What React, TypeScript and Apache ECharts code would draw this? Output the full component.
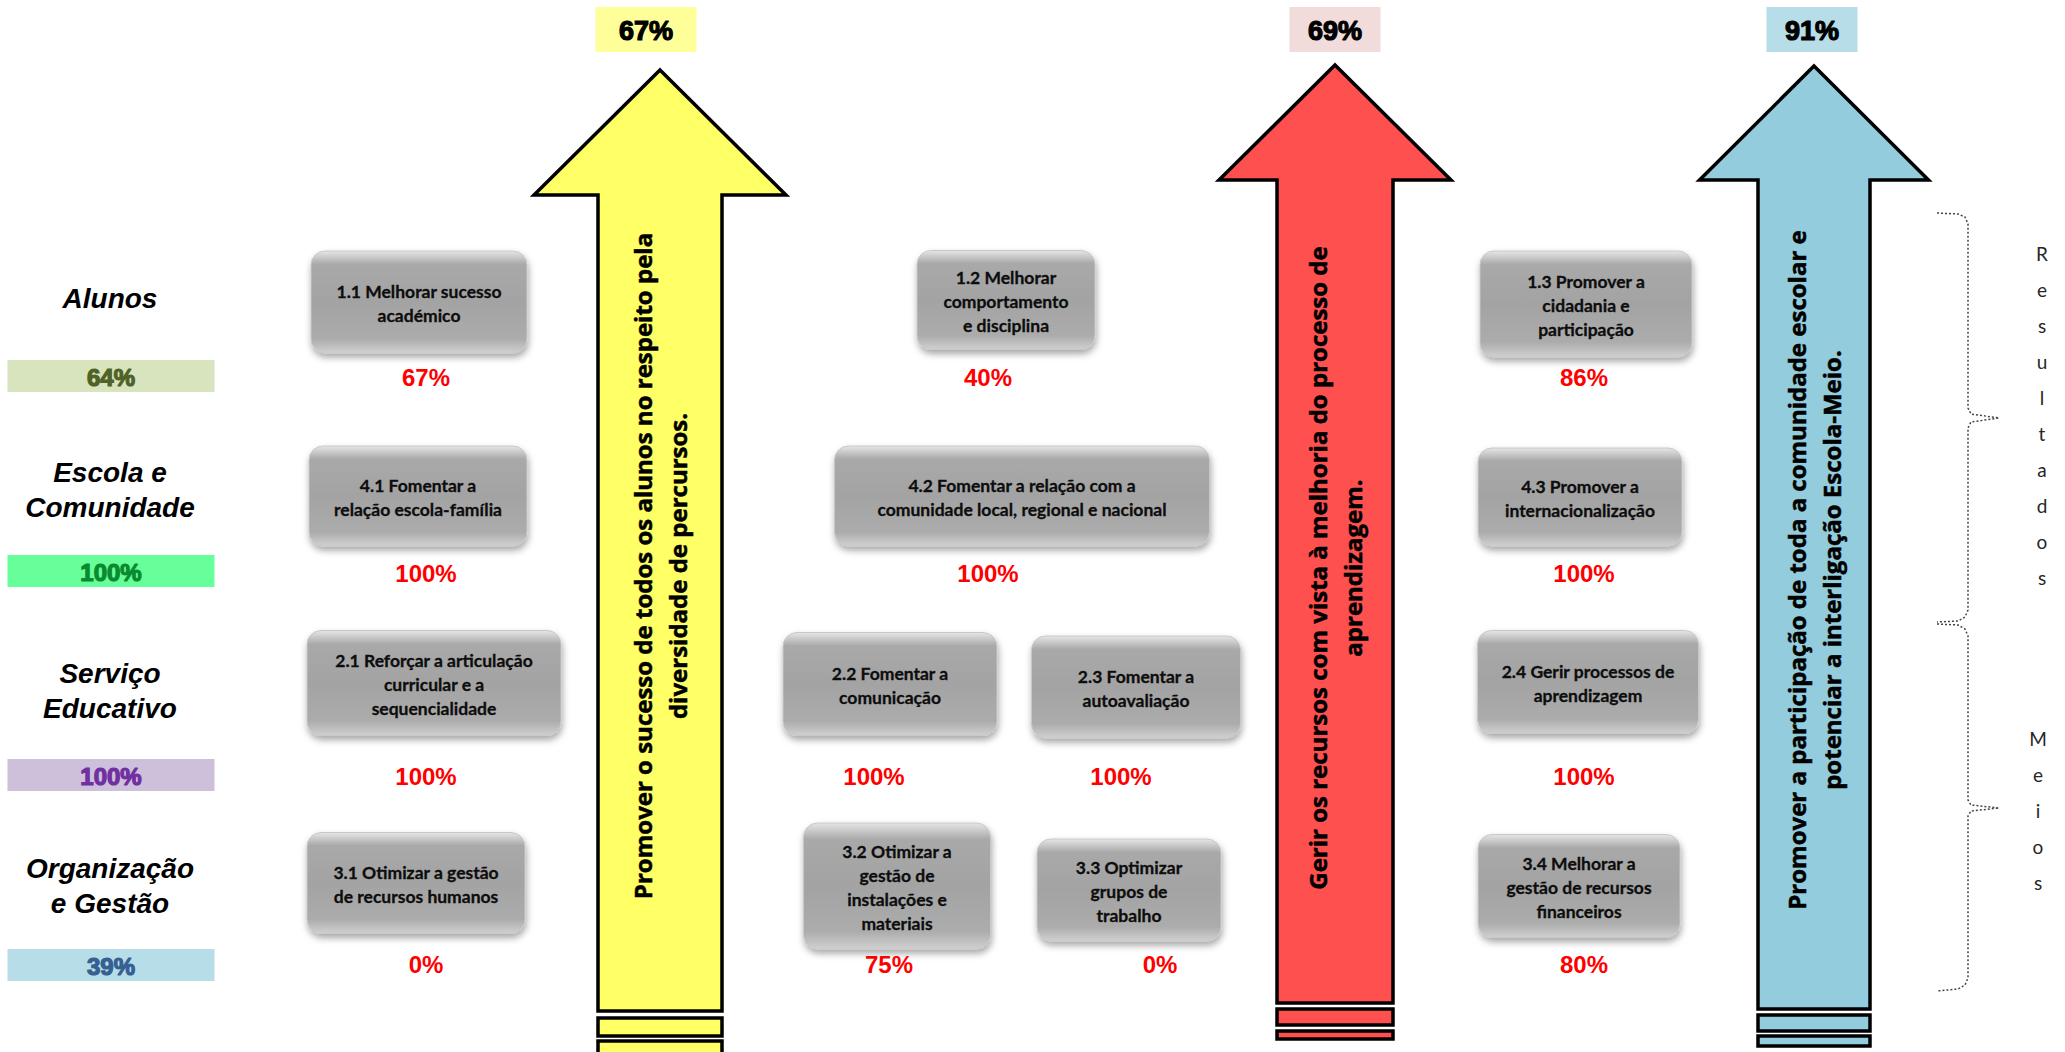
import React, { useEffect, useRef } from "react";
import * as echarts from "echarts";

// ---------- DATA ----------
const dimensionNames = ["Alunos", "Escola e\nComunidade", "Serviço\nEducativo", "Organização\ne Gestão"];
const dimensionValues = [64, 100, 100, 39];

const strategicAxes = [
  "Promover o sucesso de todos os alunos no respeito pela\ndiversidade de percursos.",
  "Gerir os recursos com vista à melhoria do processo de\naprendizagem.",
  "Promover a participação de toda a comunidade escolar e\npotenciar a interligação Escola-Meio.",
];
const strategicValues = [67, 69, 91];

const objectiveNames = [
  "1.1 Melhorar sucesso\nacadémico",
  "1.2 Melhorar\ncomportamento\ne disciplina",
  "1.3 Promover a\ncidadania e\nparticipação",
  "4.1 Fomentar a\nrelação escola-família",
  "4.2 Fomentar a relação com a\ncomunidade local, regional e nacional",
  "4.3 Promover a\ninternacionalização",
  "2.1 Reforçar a articulação\ncurricular e a\nsequencialidade",
  "2.2 Fomentar a\ncomunicação",
  "2.3 Fomentar a\nautoavaliação",
  "2.4 Gerir processos de\naprendizagem",
  "3.1 Otimizar a gestão\nde recursos humanos",
  "3.2 Otimizar a\ngestão de\ninstalações e\nmateriais",
  "3.3 Optimizar\ngrupos de\ntrabalho",
  "3.4 Melhorar a\ngestão de recursos\nfinanceiros",
];
const objectiveValues = [67, 40, 86, 100, 100, 100, 100, 100, 100, 100, 0, 75, 0, 80];
const objectiveDimension = [0, 0, 0, 1, 1, 1, 2, 2, 2, 2, 3, 3, 3, 3];

const sideGroups = ["Resultados", "Meios"];

// ---------- LAYOUT / STYLE ----------
const W = 2065;
const H = 1052;

const boxLayout = [
  { x: 419, y: 302, w: 216, h: 102, lx: 426 },
  { x: 1006, y: 300, w: 178, h: 99, lx: 988 },
  { x: 1586, y: 304, w: 212, h: 106, lx: 1584 },
  { x: 418, y: 496, w: 218, h: 100, lx: 426 },
  { x: 1022, y: 496, w: 375, h: 100, lx: 988 },
  { x: 1580, y: 497, w: 204, h: 98, lx: 1584 },
  { x: 434, y: 683, w: 254, h: 105, lx: 426 },
  { x: 890, y: 684, w: 214, h: 103, lx: 874 },
  { x: 1136, y: 687, w: 209, h: 102, lx: 1121 },
  { x: 1588, y: 682, w: 221, h: 103, lx: 1584 },
  { x: 416, y: 883, w: 218, h: 101, lx: 426 },
  { x: 897, y: 886, w: 187, h: 126, lx: 889 },
  { x: 1129, y: 890, w: 184, h: 102, lx: 1160 },
  { x: 1579, y: 886, w: 202, h: 103, lx: 1584 },
];
const pctRowY = [377, 573, 776, 964];

const dimLabelY = [298, 490, 691, 886];
const dimBadgeY = [376, 571, 775, 965];
const badgeFill = ["#D7E4BD", "#66FF99", "#CCC0DA", "#B7DEE8"];
const badgeText = ["#4F6228", "#0A8A2E", "#7030A0", "#376092"];

const arrowLayout = [
  { cx: 660, tip: 70, headY: 195, headW: 252, shaftW: 124, bottom: 1011, stripes: [[1018, 1036], [1041, 1060]], bx: 646, bw: 101, ty: 566, fill: "#FFFF66", boxFill: "#FFFF99" },
  { cx: 1335, tip: 65, headY: 180, headW: 232, shaftW: 116, bottom: 1003, stripes: [[1009, 1025], [1031, 1039]], bx: 1335, bw: 91, ty: 568, fill: "#FF5050", boxFill: "#F2DCDB" },
  { cx: 1814, tip: 66, headY: 180, headW: 229, shaftW: 112, bottom: 1009, stripes: [[1015, 1031], [1036, 1046]], bx: 1812, bw: 91, ty: 570, fill: "#93CDDD", boxFill: "#B7DEE8" },
];

const sideLayout = [
  { x: 2042, y: 415 },
  { x: 2038, y: 810 },
];

function boxGradient() {
  return new echarts.graphic.LinearGradient(0, 0, 0, 1, [
    { offset: 0, color: "#E6E6E6" },
    { offset: 0.13, color: "#A9A9A9" },
    { offset: 0.5, color: "#A3A3A3" },
    { offset: 0.86, color: "#ACACAC" },
    { offset: 1, color: "#D0D0D0" },
  ]);
}

function buildOption() {
  const arrowSeries = {
    type: "custom",
    coordinateSystem: "cartesian2d",
    clip: false,
    silent: true,
    data: strategicValues.map((v, i) => [arrowLayout[i].cx, v, i]),
    renderItem: (params: any, api: any) => {
      const i = api.value(2);
      const A = arrowLayout[i];
      const p = (x: number, y: number) => api.coord([x, y]);
      const hs = A.shaftW / 2;
      const hh = A.headW / 2;
      const cx = api.value(0);
      const children: any[] = [];
      children.push({
        type: "polygon",
        shape: {
          points: [
            p(cx, A.tip),
            p(cx + hh, A.headY),
            p(cx + hs, A.headY),
            p(cx + hs, A.bottom),
            p(cx - hs, A.bottom),
            p(cx - hs, A.headY),
            p(cx - hh, A.headY),
          ],
        },
        style: { fill: A.fill, stroke: "#000000", lineWidth: 3.5, lineJoin: "miter" },
      });
      A.stripes.forEach((s) => {
        const a = p(cx - hs, s[0]);
        const b = p(cx + hs, s[1]);
        children.push({
          type: "rect",
          shape: { x: a[0], y: a[1], width: b[0] - a[0], height: b[1] - a[1] },
          style: { fill: A.fill, stroke: "#000000", lineWidth: 3.5 },
        });
      });
      const t0 = p(A.bx - A.bw / 2, 7);
      const t1 = p(A.bx + A.bw / 2, 52);
      children.push({
        type: "rect",
        shape: { x: t0[0], y: t0[1], width: t1[0] - t0[0], height: t1[1] - t0[1] },
        style: { fill: A.boxFill },
      });
      children.push({
        type: "text",
        x: (t0[0] + t1[0]) / 2,
        y: (t0[1] + t1[1]) / 2 + 1,
        style: {
          text: api.value(1) + "%",
          align: "center",
          verticalAlign: "middle",
          fontFamily: "Liberation Sans",
          fontWeight: "bold",
          fontSize: 27,
          fill: "#000000",
          stroke: "#000000",
          lineWidth: 1.2,
        },
      });
      const tc = p(cx, A.ty);
      children.push({
        type: "text",
        x: tc[0],
        y: tc[1],
        rotation: Math.PI / 2,
        style: {
          text: strategicAxes[i],
          align: "center",
          verticalAlign: "middle",
          fontFamily: "Open Sans",
          fontWeight: "bold",
          fontSize: 24,
          lineHeight: 35,
          fill: "#000000",
          stroke: "#000000",
          lineWidth: 0.5,
        },
      });
      return { type: "group", children };
    },
  };

  const objectiveSeries = {
    type: "custom",
    coordinateSystem: "cartesian2d",
    clip: false,
    silent: true,
    data: objectiveValues.map((v, i) => [boxLayout[i].x, boxLayout[i].y, v, i]),
    renderItem: (params: any, api: any) => {
      const i = api.value(3);
      const L = boxLayout[i];
      const c = api.coord([api.value(0), api.value(1)]);
      const sz = api.size([L.w, L.h]);
      const lp = api.coord([L.lx, pctRowY[objectiveDimension[i]]]);
      return {
        type: "group",
        children: [
          {
            type: "rect",
            shape: { x: c[0] - sz[0] / 2, y: c[1] - sz[1] / 2, width: sz[0], height: sz[1], r: 14 },
            style: {
              fill: boxGradient(),
              stroke: "#C8C8C8",
              lineWidth: 1,
              shadowBlur: 7,
              shadowOffsetX: 1,
              shadowOffsetY: 4,
              shadowColor: "rgba(0,0,0,0.35)",
            },
          },
          {
            type: "text",
            x: c[0],
            y: c[1] + 1,
            style: {
              text: objectiveNames[i],
              align: "center",
              verticalAlign: "middle",
              fontFamily: "Lato",
              fontWeight: "bold",
              fontSize: 17.5,
              lineHeight: 24,
              fill: "#0D0D0D",
              stroke: "#0D0D0D",
              lineWidth: 0.3,
            },
          },
          {
            type: "text",
            x: lp[0],
            y: lp[1],
            style: {
              text: api.value(2) + "%",
              align: "center",
              verticalAlign: "middle",
              fontFamily: "Liberation Sans",
              fontWeight: "bold",
              fontSize: 24,
              fill: "#FF0000",
            },
          },
        ],
      };
    },
  };

  const dimensionSeries = {
    type: "custom",
    coordinateSystem: "cartesian2d",
    clip: false,
    silent: true,
    data: dimensionValues.map((v, i) => [111, dimBadgeY[i], v, i]),
    renderItem: (params: any, api: any) => {
      const i = api.value(3);
      const c = api.coord([api.value(0), api.value(1)]);
      const sz = api.size([207, 32]);
      const lc = api.coord([110, dimLabelY[i]]);
      return {
        type: "group",
        children: [
          {
            type: "text",
            x: lc[0],
            y: lc[1],
            style: {
              text: dimensionNames[i],
              align: "center",
              verticalAlign: "middle",
              fontFamily: "Liberation Sans",
              fontWeight: "bold",
              fontStyle: "italic",
              fontSize: 28,
              lineHeight: 35,
              fill: "#000000",
            },
          },
          {
            type: "rect",
            shape: { x: c[0] - sz[0] / 2, y: c[1] - sz[1] / 2, width: sz[0], height: sz[1] },
            style: { fill: badgeFill[i] },
          },
          {
            type: "text",
            x: c[0],
            y: c[1] + 1,
            style: {
              text: api.value(2) + "%",
              align: "center",
              verticalAlign: "middle",
              fontFamily: "Liberation Sans",
              fontWeight: "bold",
              fontSize: 24,
              fill: badgeText[i],
              stroke: badgeText[i],
              lineWidth: 1.2,
            },
          },
        ],
      };
    },
  };

  const braceStyle = { stroke: "#444444", lineWidth: 1.5, lineDash: [2, 2], fill: null };
  const brace1 = [
    [1937, 213], [1958, 214], [1965, 217], [1968, 224], [1968, 408], [1971, 414], [1999, 418],
    [1971, 422], [1968, 428], [1968, 610], [1965, 617], [1958, 621], [1937, 622],
  ];
  const brace2 = [
    [1937, 624], [1958, 625], [1965, 629], [1968, 636], [1968, 800], [1971, 805], [1999, 808],
    [1971, 811], [1968, 816], [1968, 978], [1965, 985], [1958, 989], [1937, 991],
  ];

  const graphic: any[] = [
    { type: "polyline", silent: true, shape: { points: brace1 }, style: braceStyle },
    { type: "polyline", silent: true, shape: { points: brace2 }, style: braceStyle },
  ];
  sideGroups.forEach((g, i) => {
    graphic.push({
      type: "text",
      silent: true,
      x: sideLayout[i].x,
      y: sideLayout[i].y,
      style: {
        text: g.split("").join("\n"),
        align: "center",
        verticalAlign: "middle",
        fontFamily: "Lato",
        fontSize: 19,
        lineHeight: 36,
        fill: "#262626",
      },
    });
  });

  return {
    animation: false,
    backgroundColor: "#FFFFFF",
    grid: { left: 0, right: 0, top: 0, bottom: 0 },
    xAxis: { type: "value", min: 0, max: W, show: false },
    yAxis: { type: "value", min: 0, max: H, inverse: true, show: false },
    series: [arrowSeries, objectiveSeries, dimensionSeries],
    graphic,
  };
}

export default function App() {
  const ref = useRef<HTMLDivElement>(null);
  useEffect(() => {
    const chart = echarts.init(ref.current as HTMLDivElement, null, { renderer: "svg" });
    chart.setOption(buildOption() as any);
    return () => chart.dispose();
  }, []);
  return (
    <div
      ref={ref}
      style={{ position: "fixed", left: 0, top: 0, width: W + "px", height: H + "px", background: "#FFFFFF" }}
    />
  );
}
